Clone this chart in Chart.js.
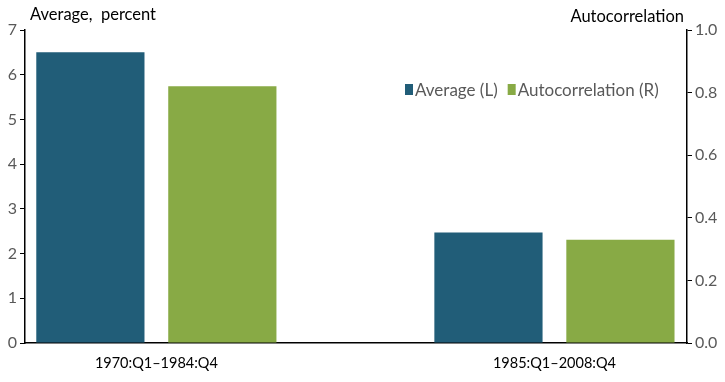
<!DOCTYPE html>
<html>
<head>
<meta charset="utf-8">
<script src="https://cdn.jsdelivr.net/npm/chart.js@4"></script>
<style>
  html, body { margin: 0; padding: 0; background: #fff; }
  #wrap { width: 725px; height: 382px; }
</style>
</head>
<body>
<div id="wrap"><canvas id="myChart" width="725" height="382"></canvas></div>
<script>
// periods and values
const periods = ['1970:Q1\u20131984:Q4', '1985:Q1\u20132008:Q4'];
const averageL = [6.5, 2.47];
const autocorrR = [0.82, 0.33];
const leftTicks = [0, 1, 2, 3, 4, 5, 6, 7];
const rightTicks = [0, 0.2, 0.4, 0.6, 0.8, 1.0];

const FONT = 'Lato, "Open Sans", sans-serif';

// titles above the two axes and the legend inside the plot
const extras = {
  id: 'extras',
  afterDraw(chart) {
    const c = chart.ctx;
    c.save();
    c.font = '16.5px ' + FONT;
    c.fillStyle = '#000';
    c.textBaseline = 'alphabetic';
    c.textAlign = 'left';
    c.fillText('Average,  percent', 30, 20);
    c.textAlign = 'right';
    c.fillText('Autocorrelation', 684, 22);

    c.font = '17px ' + FONT;
    c.textAlign = 'left';
    let x = 405;
    chart.data.datasets.forEach(ds => {
      c.fillStyle = ds.backgroundColor;
      c.fillRect(x, 84, 8, 11);
      c.fillStyle = '#595959';
      c.fillText(ds.label, x + 10, 96);
      x += 10 + c.measureText(ds.label).width + 10;
    });
    c.restore();
  }
};

const ctx = document.getElementById('myChart');

new Chart(ctx, {
  type: 'bar',
  data: {
    datasets: [
      {
        label: 'Average (L)',
        backgroundColor: '#215D78',
        data: averageL.map((v, i) => ({ x: i, y: v })),
        yAxisID: 'y'
      },
      {
        label: 'Autocorrelation (R)',
        backgroundColor: '#88AA45',
        data: autocorrR.map((v, i) => ({ x: i, y: v })),
        yAxisID: 'y1'
      }
    ]
  },
  plugins: [extras],
  options: {
    responsive: false,
    animation: false,
    layout: { padding: { top: 30, left: 0, right: 0, bottom: 0 } },
    datasets: { bar: { categoryPercentage: 0.663, barPercentage: 0.82 } },
    plugins: {
      legend: { display: false },
      tooltip: { enabled: false }
    },
    scales: {
      x: {
        type: 'linear',
        offset: false,
        min: -0.33,
        max: 1.333,
        afterBuildTicks: s => { s.ticks = periods.map((p, i) => ({ value: i })); },
        afterFit: s => { s.height = 39; },
        ticks: {
          callback: v => periods[v],
          color: '#000',
          font: { family: FONT, size: 14.5 },
          maxRotation: 0,
          padding: 4
        },
        grid: { display: false },
        border: { display: true, color: '#000', width: 1.5 }
      },
      y: {
        position: 'left',
        min: 0,
        max: 7,
        afterBuildTicks: s => { s.ticks = leftTicks.map(v => ({ value: v })); },
        afterFit: s => { s.width = 25; },
        ticks: {
          color: '#595959',
          font: { family: FONT, size: 16 },
          padding: 3
        },
        grid: { drawOnChartArea: false, color: '#000', tickLength: 5 },
        border: { color: '#000', width: 1.5 }
      },
      y1: {
        position: 'right',
        min: 0,
        max: 1,
        afterBuildTicks: s => { s.ticks = rightTicks.map(v => ({ value: v })); },
        afterFit: s => { s.width = 38; },
        ticks: {
          callback: v => v.toFixed(1),
          color: '#595959',
          font: { family: FONT, size: 16 },
          padding: 3
        },
        grid: { drawOnChartArea: false, color: '#000', tickLength: 5 },
        border: { color: '#000', width: 1.5 }
      }
    }
  }
});
</script>
</body>
</html>
